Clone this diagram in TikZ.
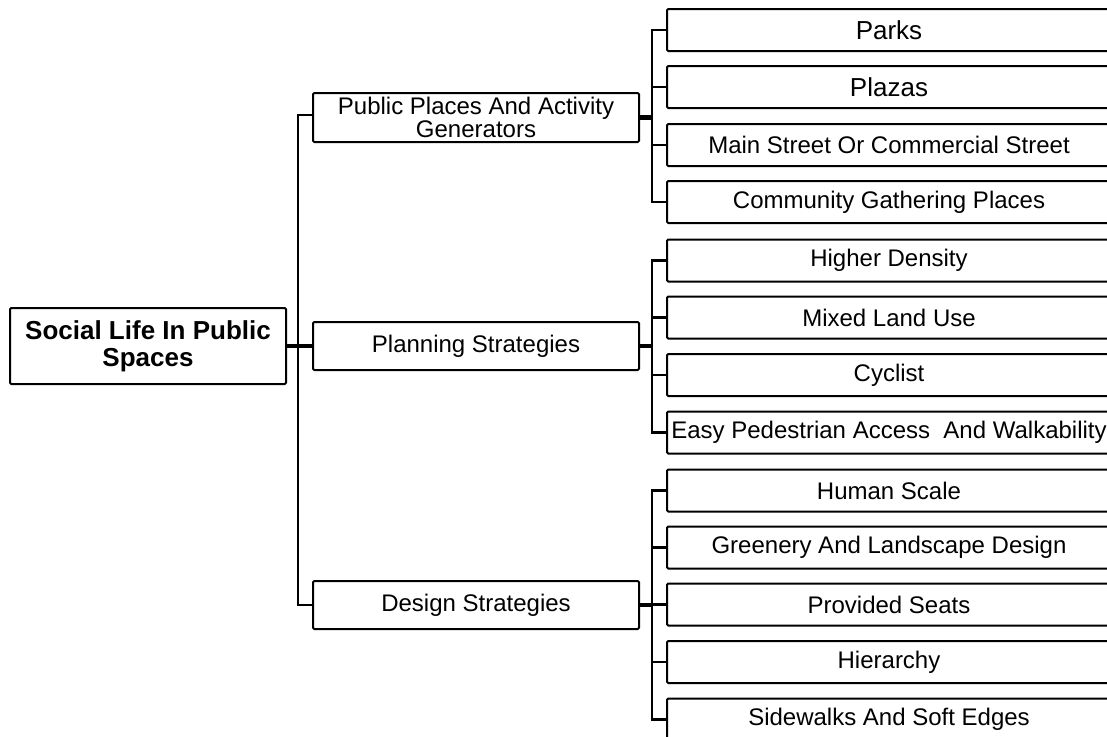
\documentclass[tikz,border=0pt]{standalone}
\usepackage{fontspec}
\setmainfont{Liberation Sans}
\begin{document}
\begin{tikzpicture}[x=1pt,y=-1pt,
  box/.style={draw=black, line width=2pt, rounded corners=1.2pt, inner sep=0pt, align=center, fill=white},
  rootbox/.style={box, minimum width=276pt, minimum height=76pt, font=\fontsize{26}{27}\selectfont\bfseries},
  midbox/.style={box, minimum width=326pt, minimum height=48pt, font=\fontsize{24}{22.5}\selectfont},
  leafbox/.style={box, minimum width=444pt, minimum height=42pt, font=\fontsize{24}{26}\selectfont},
  bigleaf/.style={leafbox, font=\fontsize{26}{28}\selectfont},
  conn/.style={draw=black, line width=2.5pt, line cap=rect},
  stub/.style={draw=black, line width=4.5pt}
]
\useasboundingbox (0,0) rectangle (1107,736);

\node[rootbox] (root) at (148,346) {Social Life In Public\\Spaces};

\node[midbox, minimum height=49pt] (pp) at (476,117.5) {Public Places And Activity\\Generators};
\node[midbox] (ps) at (476,346) {Planning Strategies};
\node[midbox] (ds) at (476,605) {Design Strategies};

\node[bigleaf] (parks) at (889,30) {Parks};
\node[bigleaf] (plazas) at (889,87) {Plazas};
\node[leafbox] (main) at (889,145) {Main Street Or Commercial Street};
\node[leafbox] (comm) at (889,202) {Community Gathering Places};

\node[leafbox] (high) at (889,260.5) {Higher Density};
\node[leafbox] (mixed) at (889,317.5) {Mixed Land Use};
\node[leafbox] (cycl) at (889,375) {Cyclist};
\node[leafbox] (easy) at (889,432.5) {Easy Pedestrian Access\ \ And Walkability};

\node[leafbox] (human) at (889,490.5) {Human Scale};
\node[leafbox] (green) at (889,547.5) {Greenery And Landscape Design};
\node[leafbox] (seats) at (889,604.5) {Provided Seats};
\node[leafbox] (hier) at (889,662) {Hierarchy};
\node[leafbox] (side) at (889,719.5) {Sidewalks And Soft Edges};

\coordinate (tk) at (298,0);
\coordinate (g) at (652,0);

% trunk
\draw[conn, line cap=butt] (ps.west |- 0,115) -- (tk |- 0,115) -- (tk |- ds.west) -- (ds.west);
\draw[stub] (root.east) -- (ps.west);

% group 1
\draw[stub] (pp.east) -- (pp.east -| g);
\draw[conn] (parks.west -| g) -- (comm.west -| g);
\foreach \n in {parks,plazas,main,comm} \draw[conn, line cap=butt] (\n.west -| g) -- (\n.west);

% group 2
\draw[stub] (ps.east) -- (ps.east -| g);
\draw[conn] (high.west -| g) -- (easy.west -| g);
\foreach \n in {high,mixed,cycl,easy} \draw[conn, line cap=butt] (\n.west -| g) -- (\n.west);

% group 3
\draw[stub] (ds.east) -- (ds.east -| g);
\draw[conn] (human.west -| g) -- (side.west -| g);
\foreach \n in {human,green,seats,hier,side} \draw[conn, line cap=butt] (\n.west -| g) -- (\n.west);
\end{tikzpicture}
\end{document}
